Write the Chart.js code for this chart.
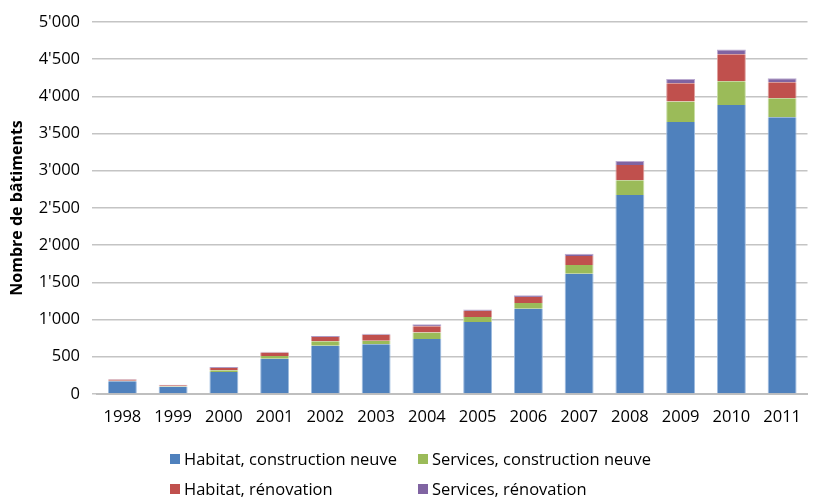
<!DOCTYPE html>
<html>
<head>
<meta charset="utf-8">
<script src="https://cdn.jsdelivr.net/npm/chart.js@4"></script>
<style>
  body { margin: 0; background: #fff; font-family: "Open Sans", sans-serif; }
  .wrap { position: relative; width: 814px; height: 497px; }
  .legend { position: absolute; left: 0; top: 0; font-size: 16.5px; color: #000; }
  .legend span.item { position: absolute; white-space: nowrap; display: flex; align-items: center; }
  .legend i { display: inline-block; width: 10px; height: 10px; margin-right: 4px; }
</style>
</head>
<body>
<div class="wrap">
  <canvas id="chart" width="814" height="497"></canvas>
  <div class="legend" id="legend"></div>
</div>
<script>
// values
const years = ['1998', '1999', '2000', '2001', '2002', '2003', '2004', '2005', '2006', '2007', '2008', '2009', '2010', '2011'];
const habitatNeuf = [170, 98, 296, 474, 650, 667, 740, 968, 1147, 1617, 2675, 3656, 3884, 3718];
const servicesNeuf = [9, 7, 22, 37, 58, 50, 88, 67, 76, 117, 196, 273, 318, 255];
const habitatReno = [16, 14, 33, 48, 58, 80, 82, 85, 81, 121, 207, 246, 363, 215];
const servicesReno = [7, 6, 12, 10, 14, 13, 28, 17, 22, 31, 53, 59, 63, 54];

const seriesNames = ['Habitat, construction neuve', 'Services, construction neuve', 'Habitat, rénovation', 'Services, rénovation'];
const colors = ['#4F81BD', '#9BBB59', '#C0504D', '#8064A2'];
const edges = ['#9DBBE0', '#C8DDA5', '#DFA09E', '#BBAAD0'];

const fmt = v => String(v).replace(/\B(?=(\d{3})+(?!\d))/g, "'");

const allSeries = [habitatNeuf, servicesNeuf, habitatReno, servicesReno];
const datasets = allSeries.map((d, i) => ({
  label: seriesNames[i],
  data: d,
  backgroundColor: colors[i],
  borderColor: edges[i],
  borderWidth: { left: 1, right: 1, top: i === 3 ? 1 : 0, bottom: 0 },
  borderSkipped: false,
  barPercentage: 0.57,
  categoryPercentage: 1.0
}));

Chart.defaults.font.family = '"Open Sans", sans-serif';
Chart.defaults.color = '#000';

new Chart(document.getElementById('chart'), {
  type: 'bar',
  data: { labels: years, datasets: datasets },
  options: {
    responsive: false,
    animation: false,
    layout: { padding: { top: 14, right: 0, bottom: 68, left: 0 } },
    plugins: { legend: { display: false }, tooltip: { enabled: false } },
    scales: {
      x: {
        stacked: true,
        grid: { display: false, drawTicks: false },
        border: { display: true, color: '#BFBFBF', width: 2 },
        ticks: { font: { size: 16.5 }, padding: 13, maxRotation: 0 },
        afterFit: s => { s.height = 35; }
      },
      y: {
        stacked: true,
        min: 0,
        max: 5000,
        ticks: { stepSize: 500, font: { size: 16.5 }, padding: 12, callback: v => fmt(v) },
        grid: { color: '#C4C4C4', lineWidth: 1.5, tickLength: 5 },
        border: { display: false },
        title: { display: true, text: 'Nombre de bâtiments', font: { size: 16, weight: 'bold' }, padding: { top: 8, bottom: 2 } },
        afterFit: s => { s.width = 97; }
      }
    }
  }
});

// legend laid out in two columns like the original
const legendPos = [[170, 447], [418, 447], [170, 477], [418, 477]];
const lg = document.getElementById('legend');
seriesNames.forEach((n, i) => {
  const el = document.createElement('span');
  el.className = 'item';
  el.style.left = legendPos[i][0] + 'px';
  el.style.top = legendPos[i][1] + 'px';
  el.innerHTML = '<i style="background:' + colors[i] + '"></i>' + n;
  lg.appendChild(el);
});
</script>
</body>
</html>
